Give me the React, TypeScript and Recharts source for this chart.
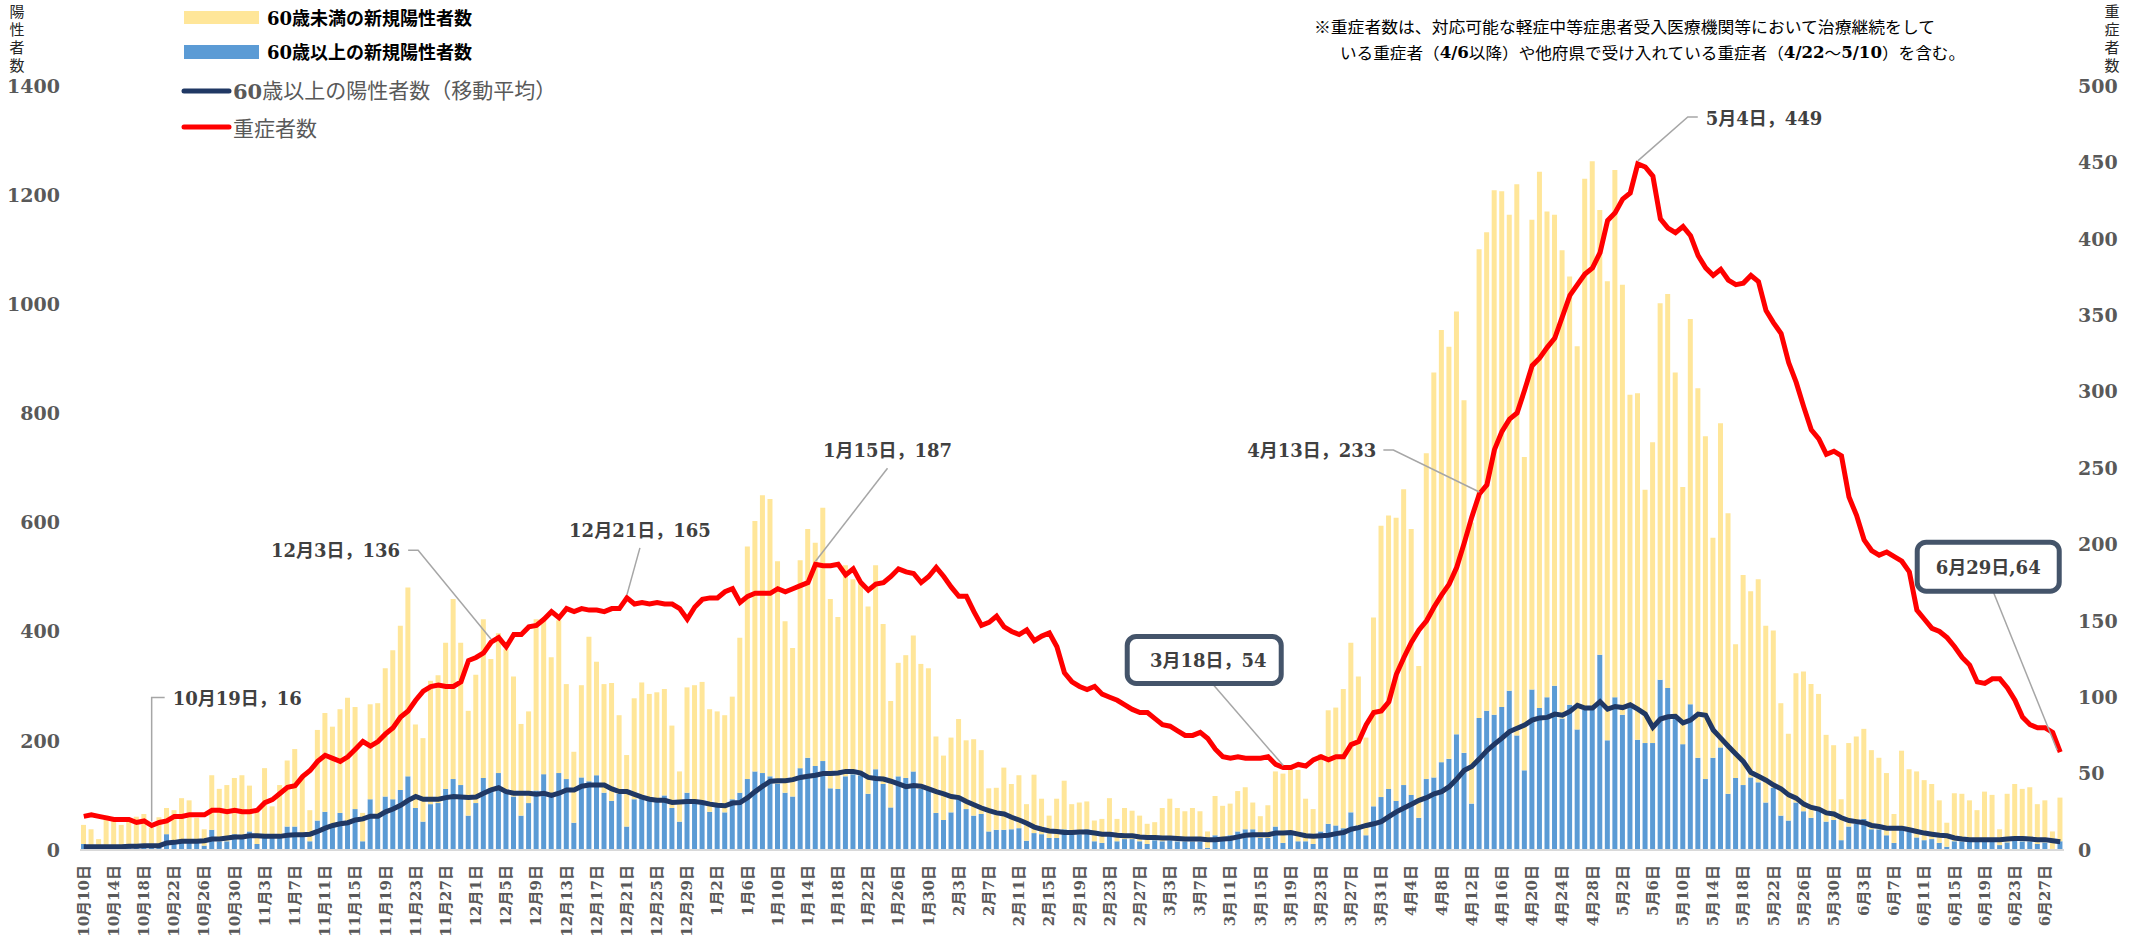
import React from 'react';
import { ComposedChart, Bar, Line, XAxis, YAxis, ReferenceDot } from 'recharts';

// ---------- categories ----------
const monthSpans: [number, number, number][] = [
  [10, 10, 31], [11, 1, 30], [12, 1, 31], [1, 1, 31], [2, 1, 28],
  [3, 1, 31], [4, 1, 30], [5, 1, 31], [6, 1, 29],
];
const dateLabels: string[] = monthSpans.flatMap(([m, s, e]) =>
  Array.from({ length: e - s + 1 }, (_, k) => `${m}月${s + k}日`)
);

// ---------- series ----------
// total new positives per day (top of the yellow bar)
const totalCases: number[] = [
  46, 38, 20, 63, 57, 46, 55, 61, 66, 41,
  60, 77, 73, 95, 91, 59, 38, 137, 112, 119,
  132, 137, 118, 69, 150, 80, 119, 164, 185, 135,
  73, 220, 251, 226, 258, 279, 262, 68, 267, 269,
  333, 366, 411, 481, 230, 205, 310, 320, 380, 460,
  380, 255, 321, 423, 350, 397, 368, 318, 231, 254,
  423, 421, 353, 421, 304, 180, 302, 391, 345, 304,
  306, 247, 174, 278, 307, 286, 289, 295, 228, 144,
  298, 302, 308, 258, 254, 247, 281, 389, 556, 603,
  650, 643, 529, 419, 370, 531, 588, 563, 627, 460,
  427, 522, 496, 487, 446, 522, 414, 273, 343, 357,
  393, 341, 333, 208, 173, 206, 240, 201, 203, 183,
  113, 114, 151, 121, 137, 84, 138, 94, 63, 94,
  127, 84, 87, 89, 54, 57, 95, 57, 77, 72,
  63, 48, 51, 77, 94, 77, 71, 77, 71, 34,
  99, 81, 85, 108, 115, 87, 62, 82, 144, 140,
  149, 147, 94, 75, 176, 256, 261, 295, 380, 318,
  206, 426, 594, 613, 609, 661, 588, 337, 727, 875,
  953, 922, 987, 824, 600, 1101, 1132, 1209, 1207, 1164,
  1220, 720, 1155, 1243, 1170, 1164, 1099, 1051, 923, 1230,
  1262, 1173, 1042, 1246, 1036, 834, 837, 660, 747, 1002,
  1019, 875, 665, 973, 846, 758, 572, 782, 617, 377,
  504, 474, 496, 411, 402, 269, 213, 324, 327, 304,
  286, 211, 192, 93, 196, 208, 222, 183, 169, 141,
  66, 182, 148, 144, 128, 121, 91, 50, 104, 103,
  91, 73, 107, 101, 38, 103, 121, 112, 115, 84,
  91, 34, 96,
];

// 60歳以上の新規陽性者数
const over60Cases: number[] = [
  11, 9, 6, 9, 9, 6, 8, 8, 8, 9,
  11, 29, 16, 16, 18, 16, 8, 37, 16, 16,
  29, 27, 34, 11, 25, 25, 25, 43, 43, 27,
  16, 54, 70, 48, 68, 48, 75, 16, 93, 61,
  98, 93, 110, 135, 77, 52, 84, 86, 112, 130,
  119, 63, 86, 132, 114, 141, 111, 98, 63, 86,
  109, 139, 98, 141, 130, 50, 133, 126, 137, 105,
  90, 103, 43, 93, 95, 97, 93, 100, 77, 52,
  105, 86, 84, 70, 80, 69, 93, 105, 130, 144,
  141, 135, 122, 105, 98, 150, 169, 154, 163, 113,
  112, 135, 139, 137, 103, 148, 121, 78, 135, 132,
  144, 112, 110, 68, 55, 69, 93, 75, 63, 66,
  34, 37, 37, 38, 40, 17, 31, 29, 22, 22,
  38, 29, 29, 38, 16, 13, 29, 16, 20, 20,
  16, 11, 18, 16, 18, 16, 16, 16, 16, 4,
  27, 18, 27, 34, 38, 38, 22, 22, 43, 13,
  34, 16, 16, 11, 34, 48, 45, 40, 69, 45,
  27, 80, 97, 112, 90, 119, 101, 59, 130, 133,
  161, 167, 212, 178, 85, 242, 255, 248, 262, 292,
  210, 146, 294, 260, 280, 301, 241, 266, 221, 257,
  260, 358, 201, 280, 248, 266, 202, 196, 196, 312,
  297, 240, 194, 267, 169, 130, 169, 188, 103, 132,
  119, 133, 124, 87, 114, 63, 54, 87, 71, 59,
  73, 52, 55, 18, 43, 48, 57, 38, 38, 27,
  13, 38, 34, 23, 18, 20, 13, 6, 16, 16,
  16, 16, 22, 16, 9, 14, 25, 16, 16, 11,
  14, 2, 16,
];

// 60歳以上の陽性者数（移動平均）
const over60Avg: number[] = [
  6, 6, 6, 6, 6, 6, 7, 7, 8, 8,
  8, 13, 14, 16, 16, 16, 17, 20, 20, 22,
  24, 24, 26, 26, 25, 25, 25, 27, 28, 28,
  29, 34, 40, 45, 48, 50, 55, 57, 62, 62,
  70, 75, 82, 91, 98, 93, 93, 93, 96, 98,
  97, 96, 97, 104, 110, 114, 107, 104, 104, 104,
  102, 104, 100, 104, 110, 110, 117, 119, 119, 119,
  112, 107, 107, 102, 97, 93, 91, 91, 87, 88,
  89, 89, 87, 84, 82, 81, 86, 87, 96, 107,
  117, 126, 127, 127, 129, 133, 135, 137, 140, 140,
  141, 144, 144, 141, 133, 131, 130, 126, 121, 116,
  118, 117, 112, 107, 103, 98, 96, 89, 83, 77,
  72, 68, 66, 60, 55, 49, 42, 38, 35, 34,
  32, 32, 33, 33, 31, 29, 29, 27, 26, 26,
  24, 23, 23, 22, 22, 21, 20, 20, 20, 19,
  19, 20, 21, 24, 27, 28, 28, 28, 31, 31,
  32, 29, 26, 25, 26, 27, 30, 32, 38, 41,
  45, 48, 52, 61, 70, 77, 84, 91, 96, 103,
  107, 116, 130, 146, 153, 167, 182, 194, 205, 217,
  223, 229, 238, 242, 243, 249, 247, 254, 265, 260,
  260, 272, 258, 263, 261, 266, 258, 249, 225, 240,
  244, 245, 233, 238, 249, 247, 220, 205, 190, 176,
  162, 142, 135, 128, 119, 112, 101, 95, 84, 78,
  75, 68, 66, 59, 54, 52, 50, 45, 43, 40,
  40, 40, 37, 34, 31, 29, 27, 26, 22, 20,
  19, 19, 19, 19, 19, 20, 21, 21, 20, 19,
  19, 17, 15,
];

// 重症者数
const severeCases: number[] = [
  22, 23, 22, 21, 20, 20, 20, 18, 19, 16,
  18, 19, 22, 22, 23, 23, 23, 26, 26, 25,
  26, 25, 25, 26, 31, 33, 37, 41, 42, 48,
  52, 58, 62, 60, 58, 61, 66, 71, 68, 71,
  76, 80, 87, 91, 98, 104, 107, 108, 107, 107,
  110, 124, 126, 129, 136, 139, 133, 141, 141, 146,
  147, 151, 156, 152, 158, 156, 158, 157, 157, 156,
  158, 158, 165, 161, 162, 161, 162, 161, 161, 158,
  151, 159, 164, 165, 165, 169, 171, 162, 166, 168,
  168, 168, 171, 169, 171, 173, 175, 187, 186, 186,
  187, 180, 184, 175, 170, 174, 175, 179, 184, 182,
  181, 175, 179, 185, 179, 172, 166, 166, 156, 147,
  149, 153, 146, 143, 141, 144, 137, 140, 142, 133,
  116, 110, 107, 105, 107, 102, 100, 98, 95, 92,
  90, 90, 86, 82, 81, 78, 75, 75, 77, 73,
  66, 61, 60, 61, 60, 60, 60, 61, 56, 54,
  54, 56, 55, 59, 61, 59, 61, 61, 69, 71,
  82, 90, 91, 97, 115, 126, 136, 144, 150, 159,
  167, 174, 185, 201, 218, 233, 239, 262, 274, 282,
  286, 301, 317, 322, 329, 335, 349, 363, 370, 377,
  381, 391, 412, 417, 426, 430, 449, 447, 441, 413,
  407, 404, 408, 402, 389, 381, 376, 380, 373, 370,
  371, 376, 372, 353, 345, 338, 319, 306, 290, 275,
  269, 259, 261, 258, 231, 219, 203, 196, 193, 195,
  192, 189, 182, 157, 151, 145, 143, 139, 133, 126,
  121, 110, 109, 112, 112, 106, 98, 87, 82, 80,
  80, 77, 64,
];

const leftTicks = [0, 200, 400, 600, 800, 1000, 1200, 1400];
const rightTicks = [0, 50, 100, 150, 200, 250, 300, 350, 400, 450, 500];

// annotated points on the 重症者数 line
const annotDates = ['10月19日', '12月3日', '12月21日', '1月15日', '3月18日', '4月13日', '5月4日', '6月29日'];
const annotTexts = ['10月19日，16', '12月3日，136', '12月21日，165', '1月15日，187', '3月18日，54', '4月13日，233', '5月4日，449', '6月29日,64'];

// ---------- table for the library ----------
const data = dateLabels.map((label, i) => ({
  label,
  over60: over60Cases[i],
  under60: totalCases[i] - over60Cases[i],
  avg: over60Avg[i],
  severe: severeCases[i],
}));

// ---------- styles / layout ----------
const SERIF = "'DejaVu Serif', 'Noto Sans CJK JP', serif";
const JP = "'Noto Sans CJK JP', sans-serif";
const TICK_FILL = '#595959';
const ANNOT_FILL = '#404040';

type Layout = {
  tx: number; ty: number; anchor: 'start' | 'middle' | 'end';
  leader: [number, number][]; box?: [number, number, number, number];
};
const annotLayouts: Layout[] = [
  { tx: 21, ty: -127, anchor: 'start', leader: [[0, -4], [0, -128], [13, -128]] },
  { tx: -91, ty: -92, anchor: 'end', leader: [[0, -3], [-73, -92], [-83, -92]] },
  { tx: 13, ty: -67, anchor: 'middle', leader: [[0, -3], [13, -50]] },
  { tx: 72, ty: -114, anchor: 'middle', leader: [[0, -3], [72, -96]] },
  { tx: -75, ty: -107, anchor: 'middle', leader: [[-71, -84], [0, -2]], box: [-156, -131, 154, 47] },
  { tx: -103, ty: -43, anchor: 'end', leader: [[0, -2], [-86, -44], [-96, -44]] },
  { tx: 68, ty: -45, anchor: 'start', leader: [[0, -3], [50, -47], [60, -47]] },
  { tx: -72, ty: -185, anchor: 'middle', leader: [[-70, -168], [-3, -2]], box: [-143, -210, 142, 49] },
];

const makeAnnot = (text: string, lay: Layout) => (p: any) => {
  const cx = Number(p.cx);
  const cy = Number(p.cy);
  if (!isFinite(cx) || !isFinite(cy)) return <g />;
  const pts = lay.leader.map(([dx, dy]) => `${cx + dx},${cy + dy}`).join(' ');
  return (
    <g>
      <polyline points={pts} fill="none" stroke="#a6a6a6" strokeWidth={1.5} />
      {lay.box && (
        <rect x={cx + lay.box[0]} y={cy + lay.box[1]} width={lay.box[2]} height={lay.box[3]}
          rx={9} ry={9} fill="#ffffff" stroke="#44546A" strokeWidth={5} />
      )}
      <text x={cx + lay.tx} y={cy + lay.ty} textAnchor={lay.anchor} dominantBaseline="central"
        fontFamily={SERIF} fontWeight="bold" fontSize={18} fill={ANNOT_FILL}>{text}</text>
    </g>
  );
};

const XTick = (props: any) => {
  const { x, y, payload } = props;
  return (
    <text x={x} y={y} transform={`rotate(-90 ${x} ${y})`} textAnchor="end" dominantBaseline="central"
      fontFamily={SERIF} fontWeight="bold" fontSize={15} fill={TICK_FILL}>{payload.value}</text>
  );
};

const VerticalTitle = ({ x, text }: { x: number; text: string }) => (
  <text x={x} y={4} fontFamily={JP} fontSize={15} fill="#262626"
    style={{ writingMode: 'vertical-rl', letterSpacing: '3px' } as any}>{text}</text>
);

export default function App() {
  return (
    <div style={{ position: 'absolute', left: 0, top: 0, width: 2140, height: 944, background: '#fff' }}>
      <ComposedChart width={2140} height={944} data={data}
        margin={{ top: 86, right: 16, left: 0, bottom: 0 }}>
        <XAxis dataKey="label" interval={3} tick={<XTick />} tickLine={false} tickSize={0} tickMargin={15}
          axisLine={{ stroke: '#d9d9d9', strokeWidth: 2 }} height={94} />
        <YAxis yAxisId="left" domain={[0, 1400]} ticks={leftTicks} width={80} axisLine={false}
          tickLine={false} tickSize={0} tickMargin={20}
          tick={{ fill: TICK_FILL, fontSize: 19, fontWeight: 'bold', fontFamily: SERIF }} />
        <YAxis yAxisId="right" orientation="right" domain={[0, 500]} ticks={rightTicks} width={60}
          axisLine={false} tickLine={false} tickSize={0} tickMargin={14}
          tick={{ fill: TICK_FILL, fontSize: 19, fontWeight: 'bold', fontFamily: SERIF }} />
        <Bar yAxisId="left" dataKey="over60" stackId="cases" fill="#5B9BD5" barSize={5} isAnimationActive={false} />
        <Bar yAxisId="left" dataKey="under60" stackId="cases" fill="#FFE699" barSize={5} isAnimationActive={false} />
        <Line yAxisId="left" dataKey="avg" stroke="#203864" strokeWidth={5} dot={false} isAnimationActive={false} />
        <Line yAxisId="right" dataKey="severe" stroke="#FF0000" strokeWidth={5} dot={false} isAnimationActive={false} />
        {annotDates.map((d, k) => (
          <ReferenceDot key={d} x={d} y={severeCases[dateLabels.indexOf(d)]} yAxisId="right" r={0}
            ifOverflow="visible" shape={makeAnnot(annotTexts[k], annotLayouts[k])} />
        ))}
      </ComposedChart>
      <svg width={2140} height={944} style={{ position: 'absolute', left: 0, top: 0, pointerEvents: 'none' }}>
        <VerticalTitle x={17} text="陽性者数" />
        <VerticalTitle x={2112} text="重症者数" />
        {/* legend */}
        <rect x={184} y={11} width={75} height={13} fill="#FFE699" />
        <text x={267} y={18} dominantBaseline="central" fontFamily={SERIF} fontWeight="bold" fontSize={18} fill="#000">60歳未満の新規陽性者数</text>
        <rect x={184} y={45} width={75} height={14} fill="#5B9BD5" />
        <text x={267} y={52} dominantBaseline="central" fontFamily={SERIF} fontWeight="bold" fontSize={18} fill="#000">60歳以上の新規陽性者数</text>
        <line x1={184} x2={229} y1={91} y2={91} stroke="#203864" strokeWidth={5} strokeLinecap="round" />
        <text x={233} y={91} dominantBaseline="central" fontFamily={SERIF} fontSize={21} fill={TICK_FILL}>
          <tspan fontWeight="bold">60</tspan>歳以上の陽性者数（移動平均）
        </text>
        <line x1={184} x2={229} y1={127} y2={127} stroke="#FF0000" strokeWidth={5} strokeLinecap="round" />
        <text x={233} y={127} dominantBaseline="central" fontFamily={JP} fontSize={21} fill={TICK_FILL}>重症者数</text>
        {/* note */}
        <text x={1314} y={26} dominantBaseline="central" fontFamily={JP} fontSize={16} fill="#000"
          textLength={621} lengthAdjust="spacingAndGlyphs">※重症者数は、対応可能な軽症中等症患者受入医療機関等において治療継続をして</text>
        <text x={1340} y={52} dominantBaseline="central" fontFamily={JP} fontSize={16} fill="#000"
          textLength={625} lengthAdjust="spacingAndGlyphs">いる重症者（<tspan fontFamily={SERIF} fontWeight="bold">4/6</tspan>以降）や他府県で受け入れている重症者（<tspan fontFamily={SERIF} fontWeight="bold">4/22</tspan>〜<tspan fontFamily={SERIF} fontWeight="bold">5/10</tspan>）を含む。</text>
      </svg>
    </div>
  );
}
